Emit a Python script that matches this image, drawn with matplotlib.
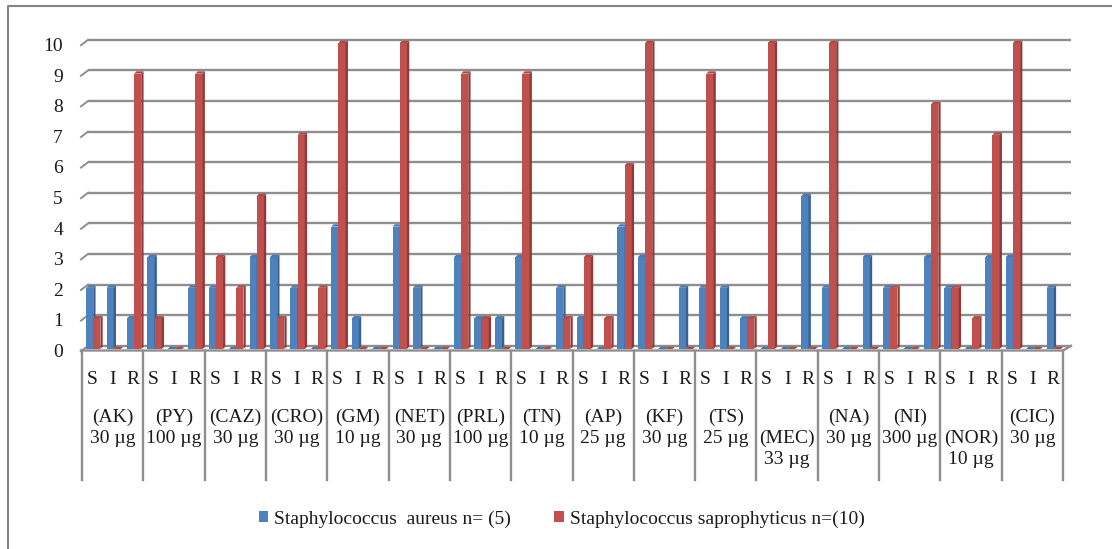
import matplotlib
matplotlib.use("Agg")
import matplotlib.pyplot as plt
from matplotlib.patches import Polygon, Patch
from matplotlib.lines import Line2D

# ---- data -------------------------------------------------------------
groups = ["AK", "PY", "CAZ", "CRO", "GM", "NET", "PRL", "TN",
          "AP", "KF", "TS", "MEC", "NA", "NI", "NOR", "CIC"]
doses = ["30 µg", "100 µg", "30 µg", "30 µg", "10 µg", "30 µg", "100 µg", "10 µg",
         "25 µg", "30 µg", "25 µg", "33 µg", "30 µg", "300 µg", "10 µg", "30 µg"]
levels = ["S", "I", "R"]
# groups whose label wraps one line lower
low_labels = ["MEC", "NOR"]

aureus = [2, 2, 1,  3, 0, 2,  2, 0, 3,  3, 2, 0,  4, 1, 0,  4, 2, 0,
          3, 1, 1,  3, 0, 2,  1, 0, 4,  3, 0, 2,  2, 2, 1,  0, 0, 5,
          2, 0, 3,  2, 0, 3,  2, 0, 3,  3, 0, 2]
saprophyticus = [1, 0, 9,  1, 0, 9,  3, 2, 5,  1, 7, 2,  10, 0, 0,  10, 0, 0,
                 9, 1, 0,  9, 0, 1,  3, 1, 6,  10, 0, 0,  9, 0, 1,  10, 0, 0,
                 10, 0, 0,  2, 0, 8,  2, 1, 7,  10, 0, 0]

series_names = ["Staphylococcus  aureus n= (5)",
                "Staphylococcus saprophyticus n=(10)"]

# ---- styling ----------------------------------------------------------
FRONT = ["#4F81BD", "#C0504D"]
SIDE = ["#37608F", "#8F3A38"]
TOP = ["#4677B0", "#AE4845"]
GRID = "#8E8E8E"
TXT = "#1a1a1a"
FONT = "Liberation Serif"
FS = 14

W, H, DPI = 1112, 549, 100
fig = plt.figure(figsize=(W / DPI, H / DPI), dpi=DPI)
plt.rcParams["font.family"] = [FONT, "DejaVu Serif"]

ax_left, ax_right = 82, 1063
ax_bottom_px, ax_top_px = 349, 43
ax = fig.add_axes([ax_left / W, (H - ax_bottom_px) / H,
                   (ax_right - ax_left) / W, (ax_bottom_px - ax_top_px) / H])
n_slots = len(groups) * len(levels)
ymax = 10
ax.set_xlim(0, n_slots)
ax.set_ylim(0, ymax)
ax.axis("off")

# pixel -> data unit conversions
px_x = n_slots / (ax_right - ax_left)
px_y = ymax / (ax_bottom_px - ax_top_px)


def pt(x, y, dx=0.0, dy=0.0):
    """data point shifted by dx, dy pixels (dy positive = up)"""
    return (x + dx * px_x, y + dy * px_y)


# ---- back wall gridlines with short perspective stubs -------------------
for v in range(0, ymax + 1):
    back_l = pt(0, v, 6, 3.2)
    back_r = pt(n_slots, v, 8, 3.2)
    front_l = pt(0, v, -1, -2.2)
    ax.add_line(Line2D([back_l[0], back_r[0]], [back_l[1], back_r[1]],
                       color=GRID, lw=1.7, clip_on=False, zorder=1,
                       solid_capstyle="butt"))
    ax.add_line(Line2D([front_l[0], back_l[0]], [front_l[1], back_l[1]],
                       color=GRID, lw=1.4, clip_on=False, zorder=1))
    ax.text(*pt(0, v, -19, -3.5), str(v), ha="right", va="center",
            fontsize=FS, family=FONT, color=TXT)

# floor front edge and right slant
f0 = pt(0, 0, -1, -1.5)
f1 = pt(n_slots, 0, 0, -1.5)
f2 = pt(n_slots, 0, 8, 3.2)
ax.add_line(Line2D([f0[0], f1[0], f2[0]], [f0[1], f1[1], f2[1]],
                   color=GRID, lw=1.7, clip_on=False, zorder=2))

# ---- 3D-looking clustered columns --------------------------------------
bar_w = 0.35
offsets = [0.20, 0.55]
depth = 2.3  # pixels
ddx, ddy = depth * px_x, depth * px_y
z = 3
for i in range(n_slots):
    for s, vals in enumerate([aureus, saprophyticus]):
        v = vals[i]
        x0 = i + offsets[s]
        x1 = x0 + bar_w
        if v > 0:
            ax.bar(x0, v, width=bar_w, align="edge", color=FRONT[s],
                   linewidth=0, zorder=z, clip_on=False)
        side = [(x1, 0), (x1, v), (x1 + ddx, v + ddy), (x1 + ddx, ddy)]
        top = [(x0, v), (x1, v), (x1 + ddx, v + ddy), (x0 + ddx, v + ddy)]
        ax.add_patch(Polygon(side, closed=True, facecolor=SIDE[s],
                             edgecolor="none", zorder=z, clip_on=False))
        ax.add_patch(Polygon(top, closed=True, facecolor=TOP[s],
                             edgecolor="none", zorder=z + 0.5, clip_on=False))
        z += 1

# ---- multi-level category axis ----------------------------------------
box_depth = 131  # pixels below the zero line
for k in range(len(groups) + 1):
    xa = pt(3 * k, 0, 0, -2)
    xb = pt(3 * k, 0, 0, -box_depth)
    ax.add_line(Line2D([xa[0], xb[0]], [xa[1], xb[1]], color=GRID, lw=1.7,
                       clip_on=False, zorder=2))

for i in range(n_slots):
    ax.text(*pt(i + 0.5, 0, 0, -30), levels[i % 3], ha="center", va="center",
            fontsize=FS, family=FONT, color=TXT)

for g, (name, dose) in enumerate(zip(groups, doses)):
    label = f"({name})\n{dose}"
    if name in low_labels:
        label = "\n" + label
    ax.text(*pt(3 * g + 1.5, 0, 0, -60), label, ha="center", va="top",
            fontsize=FS, family=FONT, color=TXT, linespacing=1.3)

# ---- legend ------------------------------------------------------------
handles = [Patch(facecolor=FRONT[0], edgecolor="none"),
           Patch(facecolor=FRONT[1], edgecolor="none")]
leg = fig.legend(handles, series_names, loc="center",
                 bbox_to_anchor=(0.505, 1 - 519 / H), ncol=2, frameon=False,
                 prop={"family": FONT, "size": FS}, handlelength=0.5,
                 handleheight=0.5, handletextpad=0.3, columnspacing=2.2)
for t in leg.get_texts():
    t.set_color(TXT)

# ---- chart border ------------------------------------------------------
fig.add_artist(Line2D([7.5 / W, 7.5 / W, 1.0], [0.0, 1 - 6 / H, 1 - 6 / H],
                      transform=fig.transFigure, color="#858585", lw=1.5))

fig.savefig("out.png", dpi=DPI, facecolor="white")
